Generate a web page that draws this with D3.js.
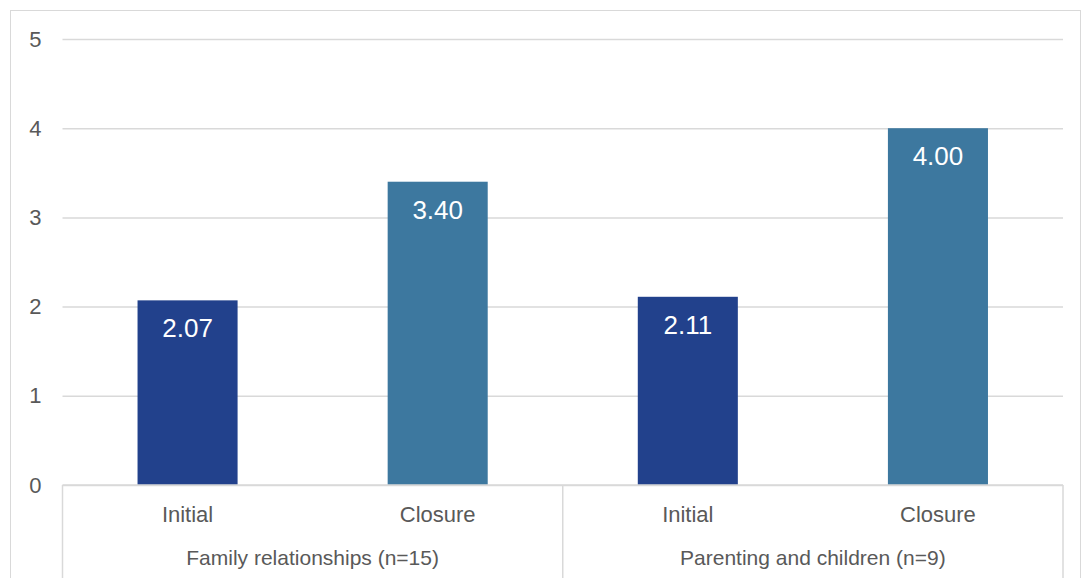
<!DOCTYPE html>
<html>
<head>
<meta charset="utf-8">
<script src="https://cdn.jsdelivr.net/npm/d3@7"></script>
<style>
  body { margin: 0; background: #fff; }
  svg { display: block; font-family: "Liberation Sans", Arial, sans-serif; }
</style>
</head>
<body>
<svg id="chart" width="1081" height="578"></svg>
<script>
const groups = ["Family relationships (n=15)", "Parenting and children (n=9)"];
const stages = ["Initial", "Closure"];
const initialValues = [2.07, 2.11];
const closureValues = [3.40, 4.00];
const yTicks = [0, 1, 2, 3, 4, 5];

const colors = { Initial: "#22418c", Closure: "#3d789f" };

const data = [];
groups.forEach((g, i) => {
  data.push({ group: g, stage: "Initial", value: initialValues[i], key: g + "|Initial" });
  data.push({ group: g, stage: "Closure", value: closureValues[i], key: g + "|Closure" });
});

const svg = d3.select("#chart");
const pLeft = 62.5, pRight = 1063, pTop = 39, pBottom = 485;

// outer chart border
svg.append("rect").attr("x", 10.5).attr("y", 10.5).attr("width", 1070).attr("height", 600)
  .attr("fill", "none").attr("stroke", "#d9d9d9").attr("stroke-width", 1);

const x = d3.scaleBand().domain(data.map(d => d.key)).range([pLeft, pRight]).paddingInner(0.6).paddingOuter(0.3);
const xGroup = d3.scaleBand().domain(groups).range([pLeft, pRight]);
const y = d3.scaleLinear().domain([0, 5]).range([pBottom, pTop]);

// gridlines + y labels
const yAxis = d3.axisLeft(y).tickValues(yTicks).tickSize(-(pRight - pLeft)).tickPadding(21).tickFormat(d3.format("d"));
const gy = svg.append("g").attr("transform", `translate(${pLeft},0)`).call(yAxis);
gy.select(".domain").remove();
gy.selectAll(".tick line").attr("stroke", "#d9d9d9").attr("stroke-width", 1.5);
gy.selectAll(".tick text").attr("fill", "#595959").style("font-size", "22px").style("font-family", "Liberation Sans, Arial, sans-serif");

// bars
svg.selectAll("rect.bar").data(data).enter().append("rect")
  .attr("class", "bar")
  .attr("x", d => x(d.key))
  .attr("width", x.bandwidth())
  .attr("y", d => y(d.value))
  .attr("height", d => y(0) - y(d.value))
  .attr("fill", d => colors[d.stage]);

// data labels
svg.selectAll("text.lbl").data(data).enter().append("text")
  .attr("class", "lbl")
  .attr("x", d => x(d.key) + x.bandwidth() / 2)
  .attr("y", d => y(d.value) + 28)
  .attr("text-anchor", "middle")
  .attr("dominant-baseline", "central")
  .attr("fill", "#ffffff")
  .style("font-size", "26px")
  .text(d => d.value.toFixed(2));

// category axis frame
const axisG = svg.append("g");
axisG.append("line").attr("x1", pLeft).attr("x2", pRight).attr("y1", pBottom).attr("y2", pBottom)
  .attr("stroke", "#d9d9d9").attr("stroke-width", 1.5);
const seps = [pLeft, xGroup(groups[1]), pRight];
axisG.selectAll("line.sep").data(seps).enter().append("line")
  .attr("class", "sep")
  .attr("x1", d => d).attr("x2", d => d)
  .attr("y1", pBottom).attr("y2", 578)
  .attr("stroke", "#d9d9d9").attr("stroke-width", 1.5);

// stage labels
svg.selectAll("text.stage").data(data).enter().append("text")
  .attr("class", "stage")
  .attr("x", d => x(d.key) + x.bandwidth() / 2)
  .attr("y", 514)
  .attr("text-anchor", "middle")
  .attr("dominant-baseline", "central")
  .attr("fill", "#595959")
  .style("font-size", "22px")
  .text(d => d.stage);

// group labels
svg.selectAll("text.grp").data(groups).enter().append("text")
  .attr("class", "grp")
  .attr("x", d => xGroup(d) + xGroup.bandwidth() / 2)
  .attr("y", 557)
  .attr("text-anchor", "middle")
  .attr("dominant-baseline", "central")
  .attr("fill", "#595959")
  .style("font-size", "21px")
  .text(d => d);
</script>
</body>
</html>
